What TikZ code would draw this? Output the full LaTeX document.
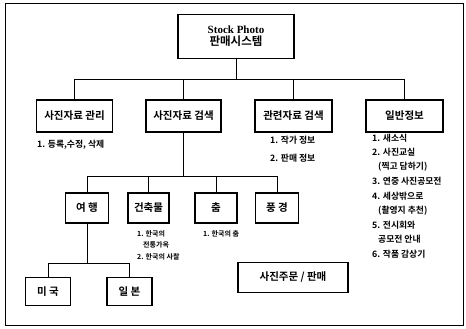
\documentclass[tikz,border=0pt]{standalone}
\usepackage{fontspec}
\setmainfont{Liberation Serif}
\newfontfamily\kr{Noto Sans CJK KR Bold}
\begin{document}
\begin{tikzpicture}[x=1pt,y=-1pt,
  box/.style={draw,line width=1.2pt,inner sep=0pt,font=\kr\fontsize{10.5}{11}\selectfont},
  conn/.style={line width=1pt},
  lbl/.style={anchor=west,inner sep=0pt,font=\kr\fontsize{8.8}{9}\selectfont},
  tiny/.style={anchor=west,inner sep=0pt,font=\kr\fontsize{7}{7}\selectfont}]
\useasboundingbox (0,0) rectangle (466,329);
\draw[line width=1pt] (5,4) rectangle (463,325);
% top
\node[box,minimum width=116pt,minimum height=44pt,align=center] (top) at (236,36.5)
  {{\rmfamily\bfseries\fontsize{11}{12}\selectfont Stock Photo}\\[1pt]{\fontsize{11.5}{12}\selectfont 판매시스템}};
% level 1
\node[box,minimum width=76pt,minimum height=32pt] (b1) at (74.5,116) {사진자료 관리};
\node[box,minimum width=75pt,minimum height=32pt] (b2) at (183.5,116) {사진자료 검색};
\node[box,minimum width=77pt,minimum height=32pt] (b3) at (293.5,116) {관련자료 검색};
\node[box,minimum width=77pt,minimum height=32pt] (b4) at (404.5,116) {일반정보};
\coordinate (bus1) at (236,80);
\draw[conn] (top.south) -- (bus1);
\draw[conn] (bus1) -| (b1.north);
\draw[conn] (bus1) -| (b2.north);
\draw[conn] (bus1) -| (b3.north);
\draw[conn] (bus1) -| (b4.north);
% labels
\node[lbl] (l1) at (37,145) {1. 등록,수정, 삭제};
\node[lbl] (l31) at (270,140) {1. 작가 정보};
\node[lbl] (l32) at (270,158) {2. 판매 정보};
\node[lbl] (g1) at (372,138) {1. 새소식};
\node[lbl] (g2) at (372,152.5) {2. 사진교실};
\node[lbl] (g3) at (378,167) {(찍고 담하기)};
\node[lbl] (g4) at (372,181.5) {3. 연중 사진공모전};
\node[lbl] (g5) at (372,196) {4. 세상밖으로};
\node[lbl] (g6) at (378,210.5) {(촬영지 추천)};
\node[lbl] (g7) at (372,225) {5. 전시회와};
\node[lbl] (g8) at (378,239.5) {공모전 안내};
\node[lbl] (g9) at (372,254) {6. 작품 감상기};
% level 2
\node[box,minimum width=43pt,minimum height=30pt] (c1) at (87,208) {여 행};
\node[box,minimum width=41pt,minimum height=30pt] (c2) at (148.5,208) {건축물};
\node[box,minimum width=42pt,minimum height=30pt] (c3) at (216,208) {춤};
\node[box,minimum width=43pt,minimum height=30pt] (c4) at (277,208) {풍 경};
\coordinate (bus2) at (183.5,176);
\draw[conn] (b2.south) -- (bus2);
\draw[conn] (bus2) -| (c1.north);
\draw[conn] (bus2) -| (c2.north);
\draw[conn] (bus2) -| (c3.north);
\draw[conn] (bus2) -| (c4.north);
\node[tiny] (k1) at (137,234) {1. 한국의};
\node[tiny] (k2) at (143,245) {전통가옥};
\node[tiny] (k3) at (137,256.5) {2. 한국의 사찰};
\node[tiny] (d1) at (203,234) {1. 한국의 춤};
% level 3
\node[box,minimum width=45pt,minimum height=28pt] (e1) at (48,291.5) {미 국};
\node[box,minimum width=45pt,minimum height=28pt] (e2) at (129.5,291.5) {일 본};
\coordinate (bus3) at (87,263);
\draw[conn] (c1.south) -- (bus3);
\draw[conn] (bus3) -| (e1.north);
\draw[conn] (bus3) -| (e2.north);
% order box
\node[box,minimum width=110pt,minimum height=30pt] (o) at (293,277.5) {사진주문 / 판매};
\end{tikzpicture}
\end{document}
